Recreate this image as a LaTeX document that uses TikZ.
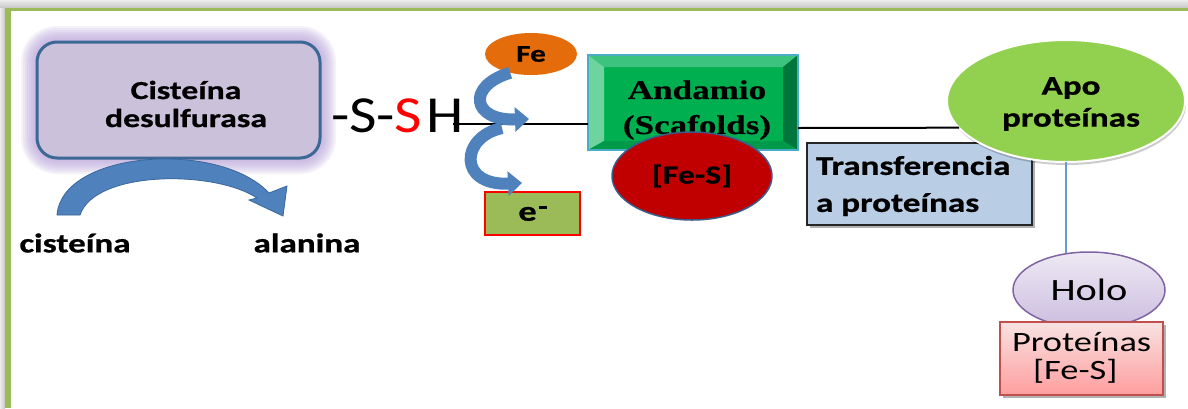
\documentclass[tikz,border=0pt]{standalone}
\usepackage{fontspec}
\setmainfont{Carlito}
\newfontfamily\cf[FakeStretch=1.3, FakeBold=0.8]{Carlito}
\newfontfamily\cfr[FakeStretch=1.3]{Carlito}
\newfontfamily\cfs[FakeStretch=1.15]{Carlito}
\newfontfamily\tf[FakeStretch=1.3, FakeBold=0.6]{Liberation Serif}
\usetikzlibrary{arrows.meta,shapes.geometric,shadows,calc}
\newcommand\fsz[2]{\fontsize{#1}{#2}\selectfont}
\definecolor{frgreen}{HTML}{9BBB59}
\definecolor{glowc}{HTML}{B7A0D8}
\definecolor{cdfill}{HTML}{CCC1DA}
\definecolor{cdborder}{HTML}{3B6895}
\definecolor{arrowblue}{HTML}{4F81BD}
\definecolor{arrowdark}{HTML}{3A679C}
\definecolor{feorange}{HTML}{E46C0A}
\definecolor{eolive}{HTML}{9BBB59}
\definecolor{andface}{HTML}{00B050}
\definecolor{bevtop}{HTML}{3CC47E}
\definecolor{bevleft}{HTML}{6FD3A0}
\definecolor{bevright}{HTML}{00763C}
\definecolor{bevbot}{HTML}{009A4A}
\definecolor{andline}{HTML}{4BACC6}
\definecolor{fesred}{HTML}{C00000}
\definecolor{fesborder}{HTML}{385D8A}
\definecolor{transfill}{HTML}{B9CDE5}
\definecolor{apogreen}{HTML}{92D050}
\definecolor{vline}{HTML}{6A9AD3}
\definecolor{holotop}{HTML}{EEE9F4}
\definecolor{holobot}{HTML}{CBBDDF}
\definecolor{holoborder}{HTML}{8064A2}
\definecolor{prtop}{HTML}{F8E2E2}
\definecolor{prbot}{HTML}{FF9E9E}
\definecolor{prborder}{HTML}{C0504D}
\begin{document}
\begin{tikzpicture}[x=1pt,y=-1pt,
  plain/.style={inner sep=0pt, outer sep=0pt},
  shapebox/.style={plain, rectangle},
  oval/.style={plain, ellipse},
  sarrow/.style={draw=arrowblue, line width=12pt, -{Triangle[length=14pt,width=24pt]}},
  conn/.style={draw=black, line width=2pt},
  shad/.style={drop shadow={shadow xshift=3pt, shadow yshift=-3pt, fill=black, opacity=0.3}},
  softshad/.style={drop shadow={shadow xshift=1pt, shadow yshift=-3pt, fill=black, opacity=0.2}},
  boldtxt/.style={plain, font=\cf\bfseries, align=center}
]
\useasboundingbox (0,0) rectangle (1188,408);
% frame
\fill[white] (0,0) rectangle (1188,408);
\shade[top color=gray!15, bottom color=gray!45] (0,0) rectangle (1188,8);
\fill[frgreen] (5,8) rectangle (1188,11);
\shade[left color=gray!15, right color=gray!45] (0,8) rectangle (5,408);
\fill[frgreen] (5,8) rectangle (11,408);

% glow behind Cisteina desulfurasa
\foreach \i in {2,4,...,16} {
  \fill[glowc, opacity=0.14, rounded corners=20+\i] (37-\i,42-\i) rectangle (320+\i,158+\i);
}
\node[shapebox, rounded corners=20pt, draw=cdborder, line width=3pt, fill=cdfill,
      minimum width=283pt, minimum height=116pt] (cd) at (178.5,100) {};
\node[boldtxt, font=\cf\bfseries\fsz{26}{28}] (cdtxt) at (186,104) {Cisteína\\desulfurasa};

% curved arrow cisteina -> alanina
\fill[arrowblue, draw=arrowdark, line width=0.8pt]
  (57,215) .. controls (62,150) and (220,140) .. (269,193) -- (287,186) -- (283,216)
  -- (249,200) -- (257,198) .. controls (215,170) and (95,170) .. (80,215) -- cycle;
\node[boldtxt, font=\cf\bfseries\fsz{27}{30}] (cis) at (75,243) {cisteína};
\node[boldtxt, font=\cf\bfseries\fsz{27}{30}] (ala) at (307,243) {alanina};

% -S-SH
\node[plain, anchor=base west, font=\cfs\fsz{52}{52}] (ssh) at (331,132)
  {-S-\textcolor{red}{S}\hspace{4pt}H};

% Andamio (bevel box)
\node[shapebox, fill=andface, minimum width=210pt, minimum height=95pt] (and) at (693,102.5) {};
\fill[bevtop] (and.north west) -- (and.north east) -- ($(and.north east)+(-15,12)$) -- ($(and.north west)+(16,12)$) -- cycle;
\fill[bevleft] (and.north west) -- ($(and.north west)+(16,12)$) -- ($(and.south west)+(16,-9)$) -- (and.south west) -- cycle;
\fill[bevright] (and.north east) -- ($(and.north east)+(-15,12)$) -- ($(and.south east)+(-15,-9)$) -- (and.south east) -- cycle;
\fill[bevbot] (and.south west) -- ($(and.south west)+(16,-9)$) -- ($(and.south east)+(-15,-9)$) -- (and.south east) -- cycle;
\draw[andline, line width=1.2pt] (and.north west) rectangle (and.south east);
\node[plain, font=\tf\bfseries\fsz{27}{35}, align=center] (andtxt) at (697,110) {Andamio\\(Scafolds)};

% [Fe-S] ellipse
\node[oval, fill=fesred, draw=fesborder, line width=1.5pt, minimum width=160pt, minimum height=88pt,
      font=\cf\bfseries\fsz{26}{28}] (fes) at (692,176) {[Fe-S]};

% line -SH -> Andamio
\coordinate (l1s) at (453,124);
\draw[conn] (l1s) -- (l1s -| and.west);

% Fe and e-
\node[oval, fill=feorange, minimum width=92pt, minimum height=42pt, font=\cf\bfseries\fsz{24}{24}] (fe) at (531,54) {Fe};
\node[shapebox, fill=eolive, draw=red, line width=2pt, minimum width=95pt, minimum height=43pt,
      font=\cf\bfseries\fsz{28}{28}] (e) at (532.5,213.5) {e\hspace{2pt}\raisebox{12pt}{\rule{8pt}{2.6pt}}};
\coordinate (tip1) at (529,119);
\coordinate (a2s) at (502,128);
\coordinate (tip2) at (522,183);
\draw[sarrow] (fe.222) .. controls (466,86) and (472,121) .. (tip1);
\draw[sarrow] (a2s) .. controls (460,137) and (458,186) .. (tip2);

% Transferencia box
\node[shapebox, draw=black!85, line width=2pt, fill=transfill, minimum width=225pt, minimum height=82pt, shad] (tr) at (919.5,184) {};
\node[plain, anchor=west, align=left, font=\cf\bfseries\fsz{27}{37}] (trtxt) at (816,186) {Transferencia\\a proteínas};

% Apo proteinas
\node[oval, fill=apogreen, draw=white, line width=2pt, minimum width=238pt, minimum height=122pt, softshad] (apo) at (1066,101) {};
\node[boldtxt, font=\cf\bfseries\fsz{27}{32}] (apotxt) at (1071,104) {Apo\\proteínas};

% line Andamio -> Apo
\draw[conn] ($(and.east)+(0,25.5)$) -- (apo.194);

% vertical line Apo -> Holo
\coordinate (vl) at (1066,258);
\draw[vline, line width=2pt] (apo.south) -- (vl);

% Holo
\node[oval, top color=holotop, bottom color=holobot, draw=holoborder, line width=1.5pt,
      minimum width=152pt, minimum height=76pt, font=\cfr\fsz{31}{31}] (holo) at (1089,290) {Holo};

% Proteinas [Fe-S]
\node[shapebox, top color=prtop, bottom color=prbot, draw=prborder, line width=1.5pt,
      minimum width=163pt, minimum height=73pt, shad] (prot) at (1081.5,358.5) {};
\node[plain, anchor=west, align=left, font=\cfr\fsz{28}{28}] (prottxt) at (1012,358)
  {Proteínas\\\hspace*{21pt}[Fe-S]};
\end{tikzpicture}
\end{document}
